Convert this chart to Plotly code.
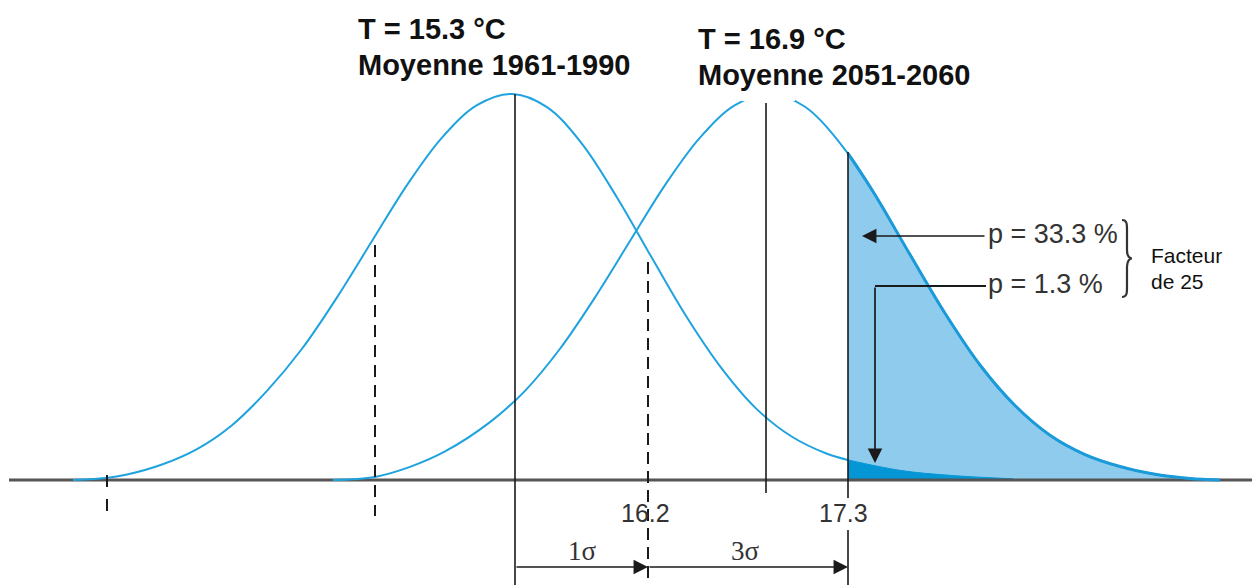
import plotly.graph_objects as go

# ---------------- data (read from the schematic) ----------------
# schematic temperature axis position (horizontal), density normalised to peak = 1
curve1_x = [73, 108, 127, 162, 197, 232, 267, 302, 337, 372, 407, 442, 477, 512, 547, 582, 617,
            652, 687, 722, 757, 792, 827, 848, 900, 950, 1013]
curve1_y = [0.0, 0.006, 0.014, 0.040, 0.080, 0.142, 0.231, 0.340, 0.473, 0.619, 0.764, 0.887,
            0.971, 1.0, 0.966, 0.871, 0.732, 0.575, 0.421, 0.288, 0.183, 0.112, 0.068, 0.052,
            0.025, 0.012, 0.003]

curve2_x = [333, 375, 410, 445, 490, 525, 560, 595, 630, 665, 700, 735, 770, 805, 848, 875, 910,
            945, 980, 1015, 1050, 1085, 1120, 1155, 1190, 1220]
curve2_y = [0.0, 0.008, 0.034, 0.074, 0.150, 0.231, 0.340, 0.473, 0.619, 0.764, 0.887, 0.971,
            1.0, 0.967, 0.846, 0.739, 0.584, 0.432, 0.298, 0.193, 0.116, 0.066, 0.035, 0.015,
            0.004, 0.0]

temp_values = [15.3, 16.2, 16.9, 17.3]          # °C
temp_pos = [515, 648, 766, 848]                 # position of each value on the schematic axis
tick_labels = ["16.2", "17.3"]
period_labels = ["Moyenne 1961-1990", "Moyenne 2051-2060"]
sigma_labels = ["1σ", "3σ"]
p_values = [33.3, 1.3]                          # %
factor = 25

# ---------------- helpers (layout pixel -> axis units) ----------------
W, H = 1252, 585
BASE, PEAK = 480, 94


def Y(py):
    return (BASE - py) / (BASE - PEAK)


BLUE = "#1fa3df"
LIGHT = "#8ecbed"
DARK = "#0596d6"
INK = "#1a1a1a"

fig = go.Figure()

thr = temp_pos[3]
sx2 = [x for x in curve2_x if x >= thr]
sy2 = [y for x, y in zip(curve2_x, curve2_y) if x >= thr]
sx1 = [x for x in curve1_x if x >= thr]
sy1 = [y for x, y in zip(curve1_x, curve1_y) if x >= thr]

# light fill under future distribution beyond 17.3
fig.add_trace(go.Scatter(x=sx2, y=sy2, mode="lines", line=dict(color=LIGHT, width=0, shape="spline"),
                         fill="tozeroy", fillcolor=LIGHT, hoverinfo="skip"))
# dark fill under present distribution beyond 17.3
fig.add_trace(go.Scatter(x=sx1, y=sy1, mode="lines", line=dict(color=DARK, width=1, shape="spline"),
                         fill="tozeroy", fillcolor=DARK, hoverinfo="skip"))
# baseline
fig.add_trace(go.Scatter(x=[9, W], y=[0, 0], mode="lines", line=dict(color="#555555", width=3),
                         hoverinfo="skip"))
# curves
c1x = [x for x in curve1_x if x <= thr]
c1y = [y for x, y in zip(curve1_x, curve1_y) if x <= thr]
fig.add_trace(go.Scatter(x=c1x, y=c1y, mode="lines", line=dict(color=BLUE, width=2, shape="spline"),
                         hoverinfo="skip"))
fig.add_trace(go.Scatter(x=curve2_x, y=curve2_y, mode="lines",
                         line=dict(color=BLUE, width=2, shape="spline"), hoverinfo="skip"))
fig.add_trace(go.Scatter(x=sx2, y=sy2, mode="lines", line=dict(color="#1a9ad9", width=3, shape="spline"),
                         hoverinfo="skip"))

shapes = []


def vline(x, y0, y1, dash=None, width=1.6):
    shapes.append(dict(type="line", xref="x", yref="y", x0=x, x1=x, y0=Y(y0), y1=Y(y1),
                       line=dict(color=INK, width=width, dash=dash), layer="above"))


# white box hiding the top of the future curve (under the title)
shapes.append(dict(type="rect", xref="x", yref="y", x0=733, x1=795, y0=Y(80), y1=Y(101),
                   fillcolor="white", line=dict(width=0), layer="above"))

vline(temp_pos[0], PEAK, H)
vline(temp_pos[2], 103, 493)
vline(temp_pos[3], 152, 498)
vline(temp_pos[3], 530, H)
vline(temp_pos[1], 262, H, dash="12px,7px", width=2)
vline(375, 245, 516, dash="12px,8px", width=2)
vline(107, 475, 511, dash="12px,12px", width=2)
# connector of the second p arrow
shapes.append(dict(type="line", xref="x", yref="y", x0=875, x1=986, y0=Y(286), y1=Y(286),
                   line=dict(color=INK, width=1.8), layer="above"))

# curly brace
bx, bt, bb, bm = 1122, 220, 297, 258.5
path = (f"M {bx} {Y(bt)} "
        f"C {bx+5} {Y(bt)}, {bx+5} {Y(bt+4)}, {bx+5} {Y(bt+10)} "
        f"L {bx+5} {Y(bm-8)} "
        f"C {bx+5} {Y(bm-2)}, {bx+8} {Y(bm)}, {bx+10} {Y(bm)} "
        f"C {bx+8} {Y(bm)}, {bx+5} {Y(bm+2)}, {bx+5} {Y(bm+8)} "
        f"L {bx+5} {Y(bb-10)} "
        f"C {bx+5} {Y(bb-4)}, {bx+5} {Y(bb)}, {bx} {Y(bb)}")
shapes.append(dict(type="path", xref="x", yref="y", path=path,
                   line=dict(color="#333333", width=2.2), layer="above"))

annotations = []


def text(x, py, s, size, color="#333333", family="Liberation Sans", xanchor="center"):
    annotations.append(dict(x=x, y=Y(py), xref="x", yref="y", text=s, showarrow=False,
                            xanchor=xanchor, yanchor="middle",
                            font=dict(size=size, color=color, family=family)))


def arrow(x, py, ax, apy):
    annotations.append(dict(x=x, y=Y(py), ax=ax, ay=Y(apy), xref="x", yref="y", axref="x", ayref="y",
                            text="", showarrow=True, arrowhead=2, arrowsize=1.7, arrowwidth=1.7,
                            arrowcolor=INK, standoff=0, startstandoff=0))


# titles
text(356, 29, f"<b>T = {temp_values[0]} °C</b>", 29, color="#111111", xanchor="left")
text(356, 65, f"<b>{period_labels[0]}</b>", 29, color="#111111", xanchor="left")
text(696, 39, f"<b>T = {temp_values[2]} °C</b>", 29, color="#111111", xanchor="left")
text(696, 75, f"<b>{period_labels[1]}</b>", 29, color="#111111", xanchor="left")

# tick labels
text(temp_pos[1] - 3, 513, tick_labels[0], 25)
text(temp_pos[3] - 5, 513, tick_labels[1], 25)

# sigma distances
text((temp_pos[0] + temp_pos[1]) / 2 + 1, 551, sigma_labels[0], 27, family="Liberation Serif")
text((temp_pos[1] + temp_pos[3]) / 2 - 3, 551, sigma_labels[1], 27, family="Liberation Serif")
arrow(temp_pos[1], 567, temp_pos[0], 567)
arrow(temp_pos[3], 567, temp_pos[1], 567)

# probabilities
text(986, 234, f"p = {p_values[0]} %", 27, xanchor="left")
text(986, 284, f"p = {p_values[1]} %", 27, xanchor="left")
arrow(862, 236, 986, 236)
arrow(875, 463, 875, 286)
text(1149, 255, "Facteur", 21, color="#111111", xanchor="left")
text(1149, 281, f"de {factor}", 21, color="#111111", xanchor="left")

fig.update_layout(
    width=W, height=H, margin=dict(l=0, r=0, t=0, b=0),
    paper_bgcolor="white", plot_bgcolor="white", showlegend=False,
    xaxis=dict(range=[0, W], visible=False, fixedrange=True),
    yaxis=dict(range=[Y(H), Y(0)], visible=False, fixedrange=True),
    shapes=shapes, annotations=annotations,
)

fig.write_html("out.html")
